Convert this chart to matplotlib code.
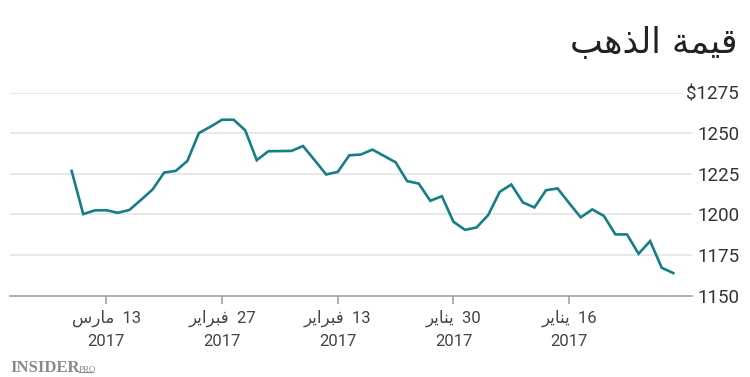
import pandas as pd
import matplotlib.pyplot as plt

plt.rcParams['font.family'] = ['Roboto', 'DejaVu Sans']

# gold price, trading days from 3 Jan 2017 (oldest first)
dates = pd.bdate_range('2017-01-03', '2017-03-16')
prices = [1163.9, 1167.2, 1183.6, 1175.8, 1187.7, 1187.7, 1199.1, 1203.1, 1198.2, 1207.0,
          1216.0, 1214.9, 1204.3, 1207.4, 1218.4, 1213.9, 1199.6, 1192.0, 1190.5, 1195.5,
          1211.2, 1208.4, 1219.0, 1220.5, 1232.1, 1236.0, 1239.9, 1236.9, 1236.4, 1226.2,
          1224.6, 1233.4, 1242.1, 1239.1, 1239.0, 1238.9, 1233.4, 1251.8, 1258.3, 1258.3,
          1254.0, 1250.1, 1232.9, 1226.8, 1225.8, 1215.4, 1209.0, 1202.8, 1201.0, 1202.6,
          1202.5, 1200.2, 1226.8]

tick_dates = ['2017-01-16', '2017-01-30', '2017-02-13', '2017-02-27', '2017-03-13']
tick_days = ['16', '30', '13', '27', '13']
tick_months = ['يناير', 'يناير', 'فبراير', 'فبراير', 'مارس']
y_ticks = [1150, 1175, 1200, 1225, 1250, 1275]
title = 'قيمة الذهب'

# matplotlib has no arabic shaping, so pick presentation forms by hand
# (isolated, final, initial, medial)
FORMS = {
    'ا': (0xFE8D, 0xFE8E, None, None),
    'ب': (0xFE8F, 0xFE90, 0xFE91, 0xFE92),
    'ة': (0xFE93, 0xFE94, None, None),
    'ذ': (0xFEAB, 0xFEAC, None, None),
    'ر': (0xFEAD, 0xFEAE, None, None),
    'س': (0xFEB1, 0xFEB2, 0xFEB3, 0xFEB4),
    'ف': (0xFED1, 0xFED2, 0xFED3, 0xFED4),
    'ق': (0xFED5, 0xFED6, 0xFED7, 0xFED8),
    'ل': (0xFEDD, 0xFEDE, 0xFEDF, 0xFEE0),
    'م': (0xFEE1, 0xFEE2, 0xFEE3, 0xFEE4),
    'ن': (0xFEE5, 0xFEE6, 0xFEE7, 0xFEE8),
    'ه': (0xFEE9, 0xFEEA, 0xFEEB, 0xFEEC),
    'ي': (0xFEF1, 0xFEF2, 0xFEF3, 0xFEF4),
}


def shape_word(word):
    if word[0] not in FORMS:
        return word
    out = []
    for i, ch in enumerate(word):
        prev_joins = i > 0 and FORMS[word[i - 1]][2] is not None
        next_joins = i < len(word) - 1 and FORMS[ch][2] is not None
        iso, fin, ini, med = FORMS[ch]
        if prev_joins and next_joins:
            code = med
        elif prev_joins:
            code = fin
        elif next_joins:
            code = ini
        else:
            code = iso
        out.append(chr(code))
    return ''.join(reversed(out))


def rtl(text, sep=' '):
    return sep.join(shape_word(w) for w in reversed(text.split()))


x = list(range(len(prices)))
date_list = list(dates.strftime('%Y-%m-%d'))
tick_pos = [date_list.index(d) for d in tick_dates]
tick_labels = [rtl(f'{d} {m}', '  ') + '\n2017' for d, m in zip(tick_days, tick_months)]

fig = plt.figure(figsize=(7.5, 3.77), dpi=100)
ax = fig.add_axes([0.0133, 0.2157, 0.9094, 0.5387])

ax.plot(x, prices, color='#167f85', linewidth=1.9, solid_joinstyle='miter')

ax.set_xlim(57.33, -1.62)
ax.set_ylim(1150, 1275)

for v in y_ticks[1:]:
    right = 0.985 if v == 1275 else 1.0
    ax.axhline(v, xmin=0, xmax=right, color='#e2e2e2', linewidth=1.1, zorder=0)

for side in ['top', 'left', 'right']:
    ax.spines[side].set_visible(False)
ax.spines['bottom'].set_color('#9a9a9a')
ax.spines['bottom'].set_linewidth(1.1)

ax.yaxis.tick_right()
ax.set_yticks(y_ticks)
ax.set_yticklabels([str(v) if v != 1275 else '$1275' for v in y_ticks])
ax.tick_params(axis='y', length=0, pad=34, labelsize=13.5, labelcolor='#333333')
for lab in ax.get_yticklabels():
    lab.set_horizontalalignment('right')

ax.set_xticks(tick_pos)
ax.set_xticklabels(tick_labels, linespacing=1.6)
ax.tick_params(axis='x', length=6, width=1.1, color='#9a9a9a', pad=4,
               labelsize=12, labelcolor='#444444')

fig.text(0.984, 0.885, rtl(title), ha='right', va='center', fontsize=25,
         color='#222222', family=['DejaVu Sans'])

fig.text(0.0133, 0.012, 'INSIDER', ha='left', va='baseline', fontsize=12,
         fontweight='bold', color='#8a8a8a', family=['Liberation Serif'])
fig.text(0.105, 0.012, 'PRO', ha='left', va='baseline', fontsize=6.5,
         color='#8a8a8a', family=['Liberation Serif'])
fig.add_artist(plt.Line2D([0.105, 0.124], [0.012, 0.012], color='#8a8a8a',
                          linewidth=0.8, transform=fig.transFigure))

fig.savefig('out.png', dpi=100)
